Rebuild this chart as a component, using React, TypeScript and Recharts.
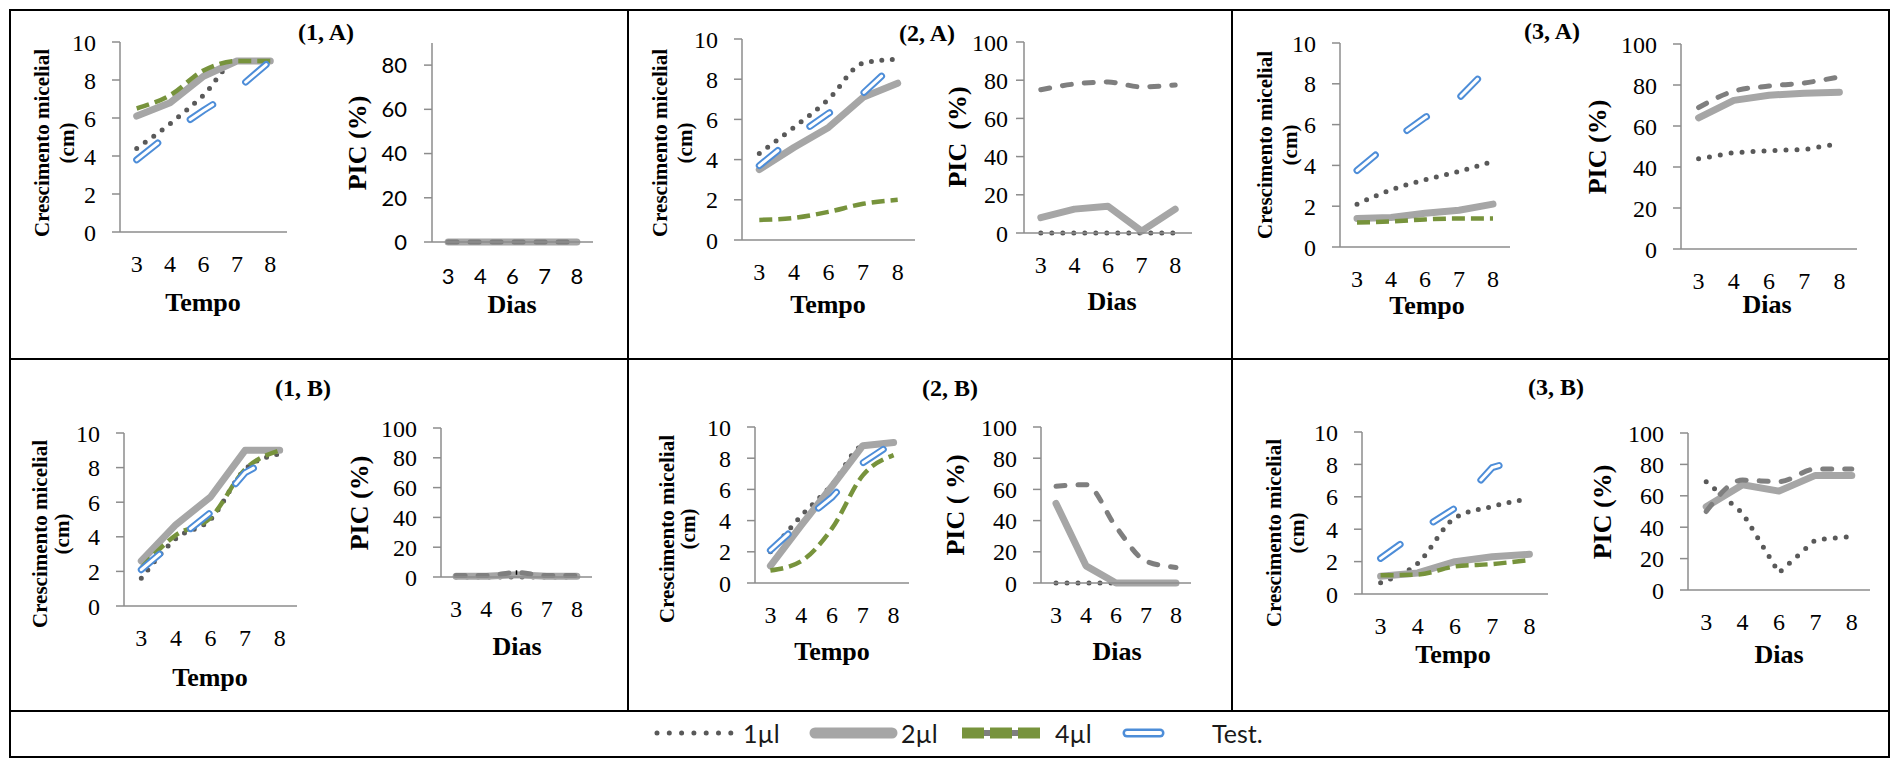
import React from 'react';
import { LineChart, Line, XAxis, YAxis, ErrorBar } from 'recharts';

// ---------- categories / ticks ----------
const days = ['3', '4', '6', '7', '8'];
const growthTicks = [0, 2, 4, 6, 8, 10];
const picTicks = [0, 20, 40, 60, 80, 100];
const picTicks1A = [0, 20, 40, 60, 80];

// ---------- Crescimento micelial (cm) ----------
const g1A_1ul = [4.4, 5.7, 7.2, 9.0, 9.0];
const g1A_2ul = [6.1, 6.8, 8.2, 9.0, 9.0];
const g1A_4ul = [6.5, 7.2, 8.5, 9.0, 9.0];
const g1A_test = [3.8, 5.2, 6.4, 7.5, 9.0];

const g2A_1ul = [4.3, 5.6, 7.0, 8.8, 9.0];
const g2A_2ul = [3.5, 4.6, 5.6, 7.1, 7.8];
const g2A_4ul = [1.0, 1.1, 1.4, 1.8, 2.0];
const g2A_test = [3.7, 5.1, 6.3, 7.3, 8.9];

const g3A_1ul = [2.1, 2.8, 3.3, 3.7, 4.2];
const g3A_2ul = [1.4, 1.45, 1.65, 1.8, 2.1];
const g3A_4ul = [1.2, 1.25, 1.35, 1.4, 1.4];
const g3A_test = [3.75, 5.15, 6.35, 7.3, 9.0];

const g1B_1ul = [1.6, 3.9, 5.0, 7.9, 8.8];
const g1B_2ul = [2.6, 4.7, 6.3, 9.0, 9.0];
const g1B_4ul = [2.2, 4.1, 5.1, 7.9, 9.0];
const g1B_test = [2.1, 3.8, 5.4, 7.7, 8.8];

const g2B_1ul = [2.0, 4.3, 6.3, 8.8, 9.0];
const g2B_2ul = [1.1, 3.7, 6.2, 8.8, 9.0];
const g2B_4ul = [0.8, 1.4, 3.5, 6.9, 8.2];
const g2B_test = [2.1, 3.9, 5.5, 7.7, 9.0];

const g3B_1ul = [0.7, 1.9, 4.7, 5.4, 5.9];
const g3B_2ul = [1.1, 1.3, 2.0, 2.3, 2.45];
const g3B_4ul = [1.15, 1.2, 1.7, 1.85, 2.1];
const g3B_test = [2.2, 3.85, 5.3, 7.8, 8.5];

// ---------- PIC (%) ----------
const p1A_1ul = [0, 0, 0, 0, 0];
const p1A_2ul = [0, 0, 0, 0, 0];
const p1A_4ul = [0, 0, 0, 0, 0];

const p2A_1ul = [0, 0, 0, 0, 0];
const p2A_2ul = [8, 12.5, 14, 1, 12.5];
const p2A_4ul = [75, 78, 79, 76.5, 77.5];

const p3A_1ul = [44, 47, 48, 48.5, 51.5];
const p3A_2ul = [64, 72.5, 75, 76, 76.5];
const p3A_4ul = [69, 77, 79.5, 81, 84];

const p1B_1ul = [0, 0, 0, 0, 0];
const p1B_2ul = [0.5, 0.5, 1.5, 0.5, 0.5];
const p1B_4ul = [1, 1, 3, 1, 1];
const p1B_4ul_err = [0, 0, 1.5, 0, 0];

const p2B_1ul = [0, 0, 0, 0, 0];
const p2B_2ul = [51, 11, 0, 0, 0];
const p2B_4ul = [62, 63, 36, 14, 10];

const p3B_1ul = [69, 49, 11, 32, 34];
const p3B_2ul = [53, 67, 63, 73, 73];
const p3B_4ul = [50, 70, 69, 77, 77];

// ---------- styles ----------
const AXIS = '#8c8c8c';
const DOT = '#595959';
const SOLID = '#A6A6A6';
const GREEN = '#77933C';
const DASHGRAY = '#7F7F7F';
const BLUE = '#4D8DD8';
const SERIF = "'Liberation Serif', 'Times New Roman', serif";
const SANS = "Lato, 'Liberation Sans', sans-serif";

const YW = 70;
const MT = 16;
const MR = 12;
const XH = 50;

type Box = { x0: number; xr: number; yt: number; yz: number };

function makeYTick(font: string, size: number) {
  return (p: any) => (
    <text x={p.x} y={p.y} dy="0.355em" textAnchor="end" fill="#000" fontFamily={font} fontSize={size}>
      {p.payload.value}
    </text>
  );
}
function makeXTick(font: string, size: number) {
  return (p: any) => (
    <text x={p.x} y={p.y} dy="0.71em" textAnchor="middle" fill="#000" fontFamily={font} fontSize={size}>
      {p.payload.value}
    </text>
  );
}
const serifY = makeYTick(SERIF, 24);
const serifX = makeXTick(SERIF, 24);
const sansY = makeYTick(SANS, 22);
const sansX = makeXTick(SANS, 22);

function GrowthChart(props: { box: Box; s1: number[]; s2: number[]; s4: number[]; st: number[]; dash?: string }) {
  const { box, s1, s2, s4, st } = props;
  const data = days.map((d, i) => ({ day: d, u1: s1[i], u2: s2[i], u4: s4[i], t: st[i] }));
  const w = box.xr - box.x0;
  const h = box.yz - box.yt;
  const pad = w / 10;
  const testDash = props.dash || '24 40';
  return (
    <div style={{ position: 'absolute', left: box.x0 - YW, top: box.yt - MT, fontFamily: SERIF }}>
      <LineChart width={w + YW + MR} height={h + MT + XH} data={data} margin={{ top: MT, right: MR, bottom: 0, left: 0 }}>
        <XAxis dataKey="day" padding={{ left: pad, right: pad }} axisLine={{ stroke: AXIS, strokeWidth: 1.5 }} tickLine={false} tickSize={0} tickMargin={23} tick={serifX} height={XH} interval={0} />
        <YAxis type="number" domain={[0, 10]} ticks={growthTicks} interval={0} width={YW} axisLine={{ stroke: AXIS, strokeWidth: 1.5 }} tickLine={{ stroke: AXIS, strokeWidth: 1.5 }} tickSize={8} tickMargin={16} tick={serifY} />
        <Line type="monotone" dataKey="u1" stroke={DOT} strokeWidth={5} strokeDasharray="0 10.5" strokeLinecap="round" dot={false} activeDot={false} isAnimationActive={false} />
        <Line type="linear" dataKey="u2" stroke={SOLID} strokeWidth={7} strokeLinecap="round" strokeLinejoin="round" dot={false} activeDot={false} isAnimationActive={false} />
        <Line type="monotone" dataKey="u4" stroke={GREEN} strokeWidth={4.5} strokeDasharray="13 6" dot={false} activeDot={false} isAnimationActive={false} />
        <Line type="linear" dataKey="t" stroke={BLUE} strokeWidth={7} strokeDasharray={testDash} strokeLinecap="round" dot={false} activeDot={false} isAnimationActive={false} />
        <Line type="linear" dataKey="t" stroke="#ffffff" strokeWidth={3} strokeDasharray={testDash} strokeLinecap="round" dot={false} activeDot={false} isAnimationActive={false} />
      </LineChart>
    </div>
  );
}

function PicChart(props: { box: Box; s1: number[]; s2: number[]; s4: number[]; err?: number[]; max?: number; ticks?: number[]; sans?: boolean; tickMargin?: number }) {
  const { box, s1, s2, s4 } = props;
  const data = days.map((d, i) => ({ day: d, u1: s1[i], u2: s2[i], u4: s4[i], e: props.err ? props.err[i] : 0 }));
  const w = box.xr - box.x0;
  const h = box.yz - box.yt;
  const pad = w / 10;
  return (
    <div style={{ position: 'absolute', left: box.x0 - YW, top: box.yt - MT, fontFamily: props.sans ? SANS : SERIF }}>
      <LineChart width={w + YW + MR} height={h + MT + XH} data={data} margin={{ top: MT, right: MR, bottom: 0, left: 0 }}>
        <XAxis dataKey="day" padding={{ left: pad, right: pad }} axisLine={{ stroke: AXIS, strokeWidth: 1.5 }} tickLine={false} tickSize={0} tickMargin={props.sans ? 26 : 23} tick={props.sans ? sansX : serifX} height={XH} interval={0} />
        <YAxis type="number" domain={[0, props.max || 100]} ticks={props.ticks || picTicks} interval={0} width={YW} axisLine={{ stroke: AXIS, strokeWidth: 1.5 }} tickLine={{ stroke: AXIS, strokeWidth: 1.5 }} tickSize={8} tickMargin={props.tickMargin ?? 16} tick={props.sans ? sansY : serifY} />
        <Line type="linear" dataKey="u1" stroke={DOT} strokeWidth={5} strokeDasharray="0 11" strokeLinecap="round" dot={false} activeDot={false} isAnimationActive={false} />
        <Line type="linear" dataKey="u2" stroke={SOLID} strokeWidth={7} strokeLinecap="round" strokeLinejoin="round" dot={false} activeDot={false} isAnimationActive={false} />
        <Line type="monotone" dataKey="u4" stroke={DASHGRAY} strokeWidth={5} strokeDasharray="9 13" strokeLinecap="round" dot={false} activeDot={false} isAnimationActive={false}>
          {props.err ? <ErrorBar dataKey="e" width={0} stroke="#000" strokeWidth={1.5} direction="y" isAnimationActive={false} /> : null}
        </Line>
      </LineChart>
    </div>
  );
}

function Txt(props: { x: number; y: number; size: number; children: React.ReactNode }) {
  return (
    <div style={{ position: 'absolute', left: props.x, top: props.y, transform: 'translate(-50%, -50%)', fontFamily: SERIF, fontWeight: 700, fontSize: props.size, lineHeight: 1, whiteSpace: 'pre', color: '#000' }}>
      {props.children}
    </div>
  );
}

function VTxt(props: { x: number; y: number; size: number; lh?: number; children: React.ReactNode }) {
  return (
    <div style={{ position: 'absolute', left: props.x, top: props.y, transform: 'translate(-50%, -50%) rotate(-90deg)', fontFamily: SERIF, fontWeight: 700, fontSize: props.size, lineHeight: props.lh ? props.lh + 'px' : 1, whiteSpace: 'pre', textAlign: 'center', color: '#000' }}>
      {props.children}
    </div>
  );
}

function Rule(props: { l: number; t: number; w: number; h: number }) {
  return <div style={{ position: 'absolute', left: props.l, top: props.t, width: props.w, height: props.h, background: '#000' }} />;
}

function Legend() {
  const y = 733;
  const text = { position: 'absolute' as const, top: y, transform: 'translateY(-50%)', fontFamily: SANS, fontSize: 25, lineHeight: 1, color: '#1a1a1a' };
  return (
    <>
      <svg style={{ position: 'absolute', left: 0, top: y - 20 }} width={1892} height={40}>
        <line x1={657} y1={20} x2={731} y2={20} stroke={DOT} strokeWidth={5} strokeDasharray="0 12.3" strokeLinecap="round" />
        <line x1={815} y1={20} x2={892} y2={20} stroke={SOLID} strokeWidth={11} strokeLinecap="round" />
        <line x1={964} y1={20} x2={1040} y2={20} stroke={DASHGRAY} strokeWidth={6} />
        <line x1={962} y1={20} x2={1042} y2={20} stroke={GREEN} strokeWidth={11} strokeDasharray="22 6" />
        <line x1={1127} y1={20} x2={1160} y2={20} stroke={BLUE} strokeWidth={9} strokeLinecap="round" />
        <line x1={1127} y1={20} x2={1160} y2={20} stroke="#fff" strokeWidth={4} strokeLinecap="round" />
      </svg>
      <div style={{ ...text, left: 743 }}>1µl</div>
      <div style={{ ...text, left: 901 }}>2µl</div>
      <div style={{ ...text, left: 1055 }}>4µl</div>
      <div style={{ ...text, left: 1212 }}>Test.</div>
    </>
  );
}

const CM_LABEL = 'Crescimento micelial\n(cm)';

export default function App() {
  return (
    <div style={{ position: 'absolute', left: 0, top: 0, width: 1892, height: 760, background: '#fff', overflow: 'hidden' }}>
      {/* charts row A */}
      <GrowthChart box={{ x0: 120, xr: 287, yt: 42, yz: 232 }} s1={g1A_1ul} s2={g1A_2ul} s4={g1A_4ul} st={g1A_test} dash="27 40" />
      <PicChart box={{ x0: 432, xr: 593, yt: 43, yz: 242 }} s1={p1A_1ul} s2={p1A_2ul} s4={p1A_4ul} max={90} ticks={picTicks1A} sans tickMargin={17} />
      <GrowthChart box={{ x0: 742, xr: 915, yt: 39, yz: 240 }} s1={g2A_1ul} s2={g2A_2ul} s4={g2A_4ul} st={g2A_test} />
      <PicChart box={{ x0: 1024, xr: 1192, yt: 42, yz: 233 }} s1={p2A_1ul} s2={p2A_2ul} s4={p2A_4ul} tickMargin={8} />
      <GrowthChart box={{ x0: 1340, xr: 1510, yt: 43, yz: 247 }} s1={g3A_1ul} s2={g3A_2ul} s4={g3A_4ul} st={g3A_test} />
      <PicChart box={{ x0: 1681, xr: 1857, yt: 44, yz: 249 }} s1={p3A_1ul} s2={p3A_2ul} s4={p3A_4ul} />
      {/* charts row B */}
      <GrowthChart box={{ x0: 124, xr: 297, yt: 433, yz: 606 }} s1={g1B_1ul} s2={g1B_2ul} s4={g1B_4ul} st={g1B_test} />
      <PicChart box={{ x0: 441, xr: 592, yt: 428, yz: 577 }} s1={p1B_1ul} s2={p1B_2ul} s4={p1B_4ul} err={p1B_4ul_err} />
      <GrowthChart box={{ x0: 755, xr: 909, yt: 427, yz: 583 }} s1={g2B_1ul} s2={g2B_2ul} s4={g2B_4ul} st={g2B_test} />
      <PicChart box={{ x0: 1041, xr: 1191, yt: 427, yz: 583 }} s1={p2B_1ul} s2={p2B_2ul} s4={p2B_4ul} />
      <GrowthChart box={{ x0: 1362, xr: 1548, yt: 432, yz: 594 }} s1={g3B_1ul} s2={g3B_2ul} s4={g3B_4ul} st={g3B_test} />
      <PicChart box={{ x0: 1688, xr: 1870, yt: 433, yz: 590 }} s1={p3B_1ul} s2={p3B_2ul} s4={p3B_4ul} />

      {/* panel titles */}
      <Txt x={326} y={32} size={24}>(1, A)</Txt>
      <Txt x={927} y={33} size={24}>(2, A)</Txt>
      <Txt x={1552} y={31} size={24}>(3, A)</Txt>
      <Txt x={303} y={388} size={24}>(1, B)</Txt>
      <Txt x={950} y={388} size={24}>(2, B)</Txt>
      <Txt x={1556} y={387} size={24}>(3, B)</Txt>

      {/* x axis titles */}
      <Txt x={203} y={303} size={26}>Tempo</Txt>
      <Txt x={512} y={305} size={26}>Dias</Txt>
      <Txt x={828} y={305} size={26}>Tempo</Txt>
      <Txt x={1112} y={302} size={26}>Dias</Txt>
      <Txt x={1427} y={306} size={26}>Tempo</Txt>
      <Txt x={1767} y={305} size={26}>Dias</Txt>
      <Txt x={210} y={678} size={26}>Tempo</Txt>
      <Txt x={517} y={647} size={26}>Dias</Txt>
      <Txt x={832} y={652} size={26}>Tempo</Txt>
      <Txt x={1117} y={652} size={26}>Dias</Txt>
      <Txt x={1453} y={655} size={26}>Tempo</Txt>
      <Txt x={1779} y={655} size={26}>Dias</Txt>

      {/* y axis titles */}
      <VTxt x={54.5} y={143} size={21} lh={25}>{CM_LABEL}</VTxt>
      <VTxt x={672.5} y={143} size={21} lh={25}>{CM_LABEL}</VTxt>
      <VTxt x={1277.5} y={145} size={21} lh={25}>{CM_LABEL}</VTxt>
      <VTxt x={51} y={534} size={21} lh={22}>{CM_LABEL}</VTxt>
      <VTxt x={677.5} y={529} size={21} lh={21}>{CM_LABEL}</VTxt>
      <VTxt x={1285.5} y={533} size={21} lh={23}>{CM_LABEL}</VTxt>

      <VTxt x={358} y={143} size={26}>PIC (%)</VTxt>
      <VTxt x={958} y={137} size={26}>PIC  (%)</VTxt>
      <VTxt x={1598} y={147} size={26}>PIC (%)</VTxt>
      <VTxt x={360} y={503} size={26}>PIC (%)</VTxt>
      <VTxt x={956} y={505} size={26}>PIC ( %)</VTxt>
      <VTxt x={1603} y={512} size={26}>PIC (%)</VTxt>

      <Legend />

      {/* table rules */}
      <Rule l={9} t={9} w={1881} h={2} />
      <Rule l={9} t={756} w={1881} h={2} />
      <Rule l={9} t={9} w={2} h={749} />
      <Rule l={1888} t={9} w={2} h={749} />
      <Rule l={627} t={9} w={2} h={702} />
      <Rule l={1231} t={9} w={2} h={702} />
      <Rule l={9} t={358} w={1881} h={2} />
      <Rule l={9} t={710} w={1881} h={2} />
    </div>
  );
}
